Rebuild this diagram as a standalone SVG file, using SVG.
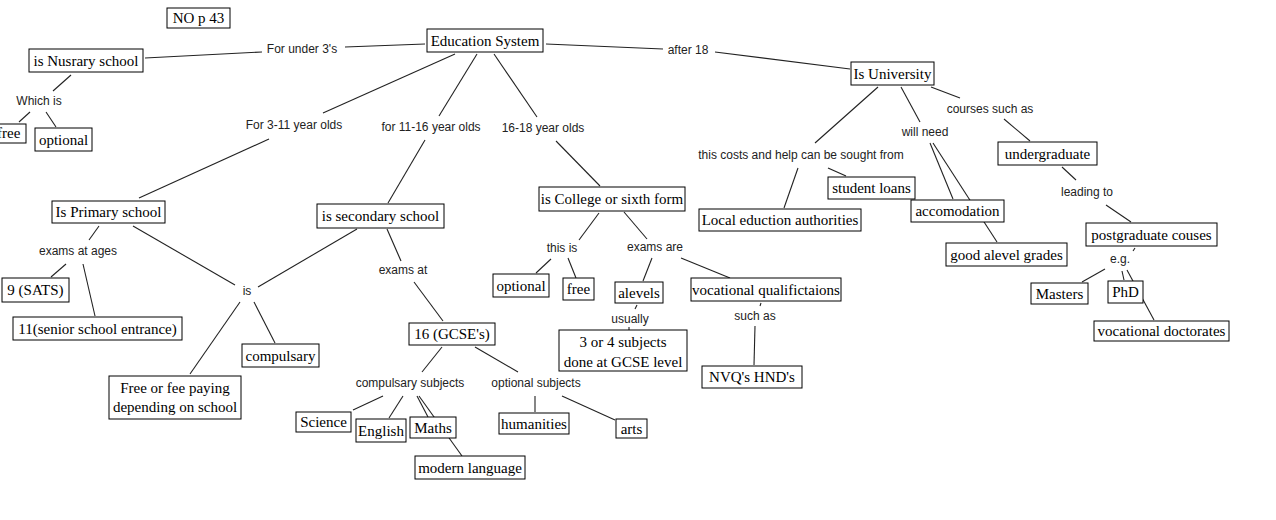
<svg xmlns="http://www.w3.org/2000/svg" width="1276" height="520" viewBox="0 0 1276 520">
<style>
.bg{fill:#fff}
.c line{stroke:#222;stroke-width:1.1}
.n rect{fill:#fff;stroke:#000;stroke-width:1}
.n text{font-family:"Liberation Serif","Times New Roman",serif;font-size:15px;fill:#000;text-anchor:middle}
.l text{font-family:"Liberation Sans",Arial,sans-serif;font-size:12px;fill:#222;text-anchor:middle}
</style>
<rect class="bg" x="0" y="0" width="1276" height="520"/>
<g id="connectors" class="c">
<line x1="425" y1="44" x2="345" y2="47"/>
<line x1="262" y1="52" x2="145" y2="58"/>
<line x1="71" y1="75" x2="53" y2="91"/>
<line x1="30" y1="112" x2="19" y2="122"/>
<line x1="46" y1="112" x2="56" y2="127"/>
<line x1="455" y1="54" x2="323" y2="113"/>
<line x1="269" y1="139" x2="139" y2="198"/>
<line x1="477" y1="54" x2="439" y2="116"/>
<line x1="425" y1="140" x2="388" y2="203"/>
<line x1="494" y1="54" x2="537" y2="117"/>
<line x1="556" y1="141" x2="600" y2="186"/>
<line x1="546" y1="44" x2="663" y2="49"/>
<line x1="715" y1="52" x2="850" y2="69"/>
<line x1="99" y1="226" x2="89" y2="240"/>
<line x1="66" y1="264" x2="51" y2="277"/>
<line x1="83" y1="264" x2="95" y2="316"/>
<line x1="133" y1="226" x2="235" y2="285"/>
<line x1="357" y1="229" x2="258" y2="287"/>
<line x1="240" y1="302" x2="190" y2="374"/>
<line x1="254" y1="302" x2="275" y2="343"/>
<line x1="387" y1="229" x2="401" y2="261"/>
<line x1="414" y1="282" x2="443" y2="321"/>
<line x1="442" y1="347" x2="422" y2="372"/>
<line x1="475" y1="347" x2="518" y2="372"/>
<line x1="383" y1="396" x2="353" y2="410"/>
<line x1="403" y1="396" x2="389" y2="418"/>
<line x1="417" y1="396" x2="428" y2="417"/>
<line x1="419" y1="396" x2="462" y2="456"/>
<line x1="535" y1="396" x2="535" y2="412"/>
<line x1="562" y1="396" x2="615" y2="420"/>
<line x1="599" y1="213" x2="579" y2="240"/>
<line x1="624" y1="212" x2="647" y2="239"/>
<line x1="551" y1="259" x2="536" y2="273"/>
<line x1="568" y1="258" x2="576" y2="278"/>
<line x1="652" y1="258" x2="643" y2="281"/>
<line x1="681" y1="258" x2="730" y2="278"/>
<line x1="637" y1="305" x2="635" y2="309"/>
<line x1="629" y1="327" x2="629" y2="330"/>
<line x1="761" y1="303" x2="760" y2="306"/>
<line x1="755" y1="326" x2="754" y2="365"/>
<line x1="878" y1="87" x2="815" y2="143"/>
<line x1="901" y1="87" x2="920" y2="122"/>
<line x1="931" y1="87" x2="960" y2="98"/>
<line x1="1004" y1="119" x2="1030" y2="141"/>
<line x1="798" y1="168" x2="784" y2="208"/>
<line x1="828" y1="168" x2="846" y2="176"/>
<line x1="930" y1="143" x2="953" y2="199"/>
<line x1="933" y1="143" x2="997" y2="242"/>
<line x1="1062" y1="167" x2="1076" y2="180"/>
<line x1="1106" y1="205" x2="1131" y2="222"/>
<line x1="1135" y1="248" x2="1133" y2="251"/>
<line x1="1105" y1="269" x2="1082" y2="282"/>
<line x1="1122" y1="271" x2="1124" y2="280"/>
<line x1="1127" y1="270" x2="1154" y2="320"/>
</g>
<g id="nop43" class="n"><rect x="167" y="8" width="63" height="20"/><text x="198.5" y="23">NO p 43</text></g>
<g id="edu" class="n"><rect x="427" y="29" width="116" height="23"/><text x="485" y="45.5">Education System</text></g>
<g id="nursery" class="n"><rect x="29" y="49" width="114" height="23"/><text x="86" y="65.5">is Nusrary school</text></g>
<g id="free1" class="n"><rect x="-10" y="124" width="36" height="19"/><text x="-3" y="138" style="text-anchor:start">free</text></g>
<g id="optional1" class="n"><rect x="35" y="128" width="57" height="23"/><text x="63.5" y="144.5">optional</text></g>
<g id="primary" class="n"><rect x="52" y="201" width="113" height="22"/><text x="108.5" y="217">Is Primary school</text></g>
<g id="secondary" class="n"><rect x="317" y="204" width="127" height="24"/><text x="380.5" y="221">is secondary school</text></g>
<g id="college" class="n"><rect x="539" y="187" width="146" height="24"/><text x="612" y="204">is College or sixth form</text></g>
<g id="univ" class="n"><rect x="851" y="62" width="83" height="23"/><text x="892.5" y="78.5">Is University</text></g>
<g id="sats" class="n"><rect x="2" y="278" width="67" height="24"/><text x="35.5" y="295">9 (SATS)</text></g>
<g id="eleven" class="n"><rect x="13" y="317" width="169" height="23"/><text x="97.5" y="333.5">11(senior school entrance)</text></g>
<g id="freefee" class="n"><rect x="109" y="376" width="132" height="43"/><text x="175" y="393">Free or fee paying</text><text x="175" y="412">depending on school</text></g>
<g id="compulsary" class="n"><rect x="242" y="344" width="77" height="23"/><text x="280.5" y="360.5">compulsary</text></g>
<g id="gcse" class="n"><rect x="409" y="323" width="86" height="22"/><text x="452" y="339">16 (GCSE's)</text></g>
<g id="science" class="n"><rect x="296" y="412" width="55" height="20"/><text x="323.5" y="427">Science</text></g>
<g id="english" class="n"><rect x="356" y="419" width="50" height="23"/><text x="381" y="435.5">English</text></g>
<g id="maths" class="n"><rect x="410" y="417" width="46" height="21"/><text x="433" y="432.5">Maths</text></g>
<g id="modlang" class="n"><rect x="415" y="456" width="110" height="23"/><text x="470" y="472.5">modern language</text></g>
<g id="humanities" class="n"><rect x="499" y="413" width="70" height="21"/><text x="534" y="428.5">humanities</text></g>
<g id="arts" class="n"><rect x="616" y="419" width="31" height="19"/><text x="631.5" y="433.5">arts</text></g>
<g id="optional2" class="n"><rect x="493" y="274" width="56" height="23"/><text x="521" y="290.5">optional</text></g>
<g id="free2" class="n"><rect x="563" y="278" width="31" height="22"/><text x="578.5" y="294">free</text></g>
<g id="alevels" class="n"><rect x="615" y="282" width="48" height="21"/><text x="639" y="297.5">alevels</text></g>
<g id="vocq" class="n"><rect x="691" y="278" width="150" height="23"/><text x="766" y="294.5">vocational qualifictaions</text></g>
<g id="threefour" class="n"><rect x="559" y="330" width="128" height="41"/><text x="623" y="347">3 or 4 subjects</text><text x="623" y="367">done at GCSE level</text></g>
<g id="nvq" class="n"><rect x="702" y="366" width="100" height="22"/><text x="752" y="382">NVQ's HND's</text></g>
<g id="local" class="n"><rect x="699" y="209" width="162" height="22"/><text x="780" y="225">Local eduction authorities</text></g>
<g id="studentloans" class="n"><rect x="828" y="177" width="87" height="22"/><text x="871.5" y="193">student loans</text></g>
<g id="accom" class="n"><rect x="911" y="200" width="93" height="22"/><text x="957.5" y="216">accomodation</text></g>
<g id="goodalevel" class="n"><rect x="946" y="243" width="121" height="23"/><text x="1006.5" y="259.5">good alevel grades</text></g>
<g id="undergrad" class="n"><rect x="998" y="142" width="99" height="23"/><text x="1047.5" y="158.5">undergraduate</text></g>
<g id="postgrad" class="n"><rect x="1086" y="223" width="131" height="23"/><text x="1151.5" y="239.5">postgraduate couses</text></g>
<g id="masters" class="n"><rect x="1031" y="283" width="57" height="21"/><text x="1059.5" y="298.5">Masters</text></g>
<g id="phd" class="n"><rect x="1108" y="281" width="35" height="22"/><text x="1125.5" y="297">PhD</text></g>
<g id="vocdoc" class="n"><rect x="1094" y="321" width="135" height="20"/><text x="1161.5" y="336">vocational doctorates</text></g>
<g id="lbl-under3" class="l"><text x="302" y="53">For under 3's</text></g>
<g id="lbl-after18" class="l"><text x="688" y="54">after 18</text></g>
<g id="lbl-whichis" class="l"><text x="39" y="105">Which is</text></g>
<g id="lbl-3-11" class="l"><text x="294" y="129">For 3-11 year olds</text></g>
<g id="lbl-11-16" class="l"><text x="431" y="131">for 11-16 year olds</text></g>
<g id="lbl-16-18" class="l"><text x="543" y="132">16-18 year olds</text></g>
<g id="lbl-examsatages" class="l"><text x="78" y="255">exams at ages</text></g>
<g id="lbl-is" class="l"><text x="247" y="295">is</text></g>
<g id="lbl-examsat" class="l"><text x="403" y="274">exams at</text></g>
<g id="lbl-compsubj" class="l"><text x="410" y="387">compulsary subjects</text></g>
<g id="lbl-optsubj" class="l"><text x="536" y="387">optional subjects</text></g>
<g id="lbl-thisis" class="l"><text x="562" y="252">this is</text></g>
<g id="lbl-examsare" class="l"><text x="655" y="251">exams are</text></g>
<g id="lbl-usually" class="l"><text x="630" y="323">usually</text></g>
<g id="lbl-suchas" class="l"><text x="755" y="320">such as</text></g>
<g id="lbl-thiscosts" class="l"><text x="801" y="159">this costs and help can be sought from</text></g>
<g id="lbl-willneed" class="l"><text x="925" y="136">will need</text></g>
<g id="lbl-courses" class="l"><text x="990" y="113">courses such as</text></g>
<g id="lbl-leadingto" class="l"><text x="1087" y="196">leading to</text></g>
<g id="lbl-eg" class="l"><text x="1120" y="263">e.g.</text></g>
</svg>
